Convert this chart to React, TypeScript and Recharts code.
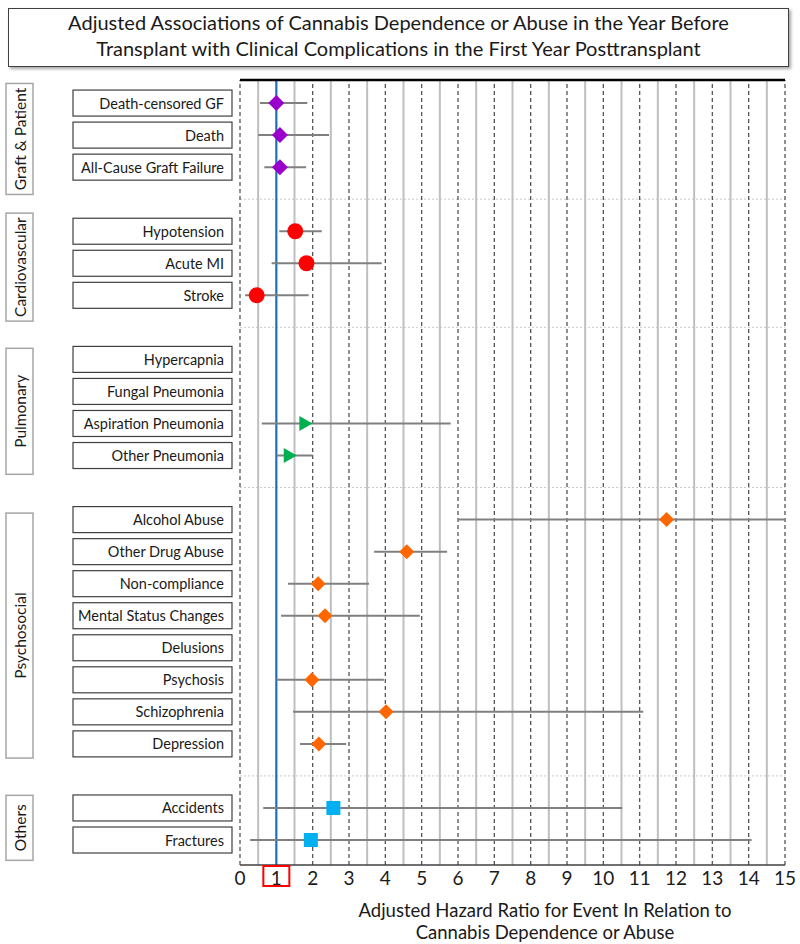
import { ComposedChart, Scatter, ErrorBar, XAxis, YAxis, ReferenceLine } from "recharts";

const categories = [
  "Death-censored GF", "Death", "All-Cause Graft Failure",
  "Hypotension", "Acute MI", "Stroke",
  "Hypercapnia", "Fungal Pneumonia", "Aspiration Pneumonia", "Other Pneumonia",
  "Alcohol Abuse", "Other Drug Abuse", "Non-compliance", "Mental Status Changes",
  "Delusions", "Psychosis", "Schizophrenia", "Depression",
  "Accidents", "Fractures",
];
const groupOf = [0, 0, 0, 1, 1, 1, 2, 2, 2, 2, 3, 3, 3, 3, 3, 3, 3, 3, 4, 4];
const groups = ["Graft & Patient", "Cardiovascular", "Pulmonary", "Psychosocial", "Others"];

const hazardRatio = [1.0, 1.1, 1.1, 1.52, 1.83, 0.46, null, null, 1.8, 1.37, 11.74, 4.59, 2.15, 2.34, null, 1.98, 4.02, 2.17, 2.57, 1.95];
const ciLower = [0.55, 0.5, 0.67, 1.08, 0.87, 0.14, null, null, 0.6, 1.01, 6.01, 3.69, 1.32, 1.13, null, 1.0, 1.46, 1.65, 0.64, 0.28];
const ciUpper = [1.85, 2.45, 1.82, 2.25, 3.9, 1.89, null, null, 5.8, 2.0, 15, 5.7, 3.55, 4.95, null, 3.96, 11.1, 2.92, 10.52, 14.08];

const xTicks = [0, 1, 2, 3, 4, 5, 6, 7, 8, 9, 10, 11, 12, 13, 14, 15];
const halfTicks = [0.5, 1.5, 2.5, 3.5, 4.5, 5.5, 6.5, 7.5, 8.5, 9.5, 10.5, 11.5, 12.5, 13.5, 14.5];

// layout
const FONT = "Lato, 'Open Sans', sans-serif";
const groupColors = ["#9900CC", "#FF0000", "#00B050", "#FF6600", "#00B0F0"];
const groupBoxHeight = [111, 108, 126, 245, 65];

// each group is followed by a blank slot
const slotOf = categories.map((_, i) => i + groupOf[i]);
const separators = groups.slice(1).map((_, g) => slotOf[groupOf.indexOf(g + 1)] - 1);
const groupCenters = groups.map((_, g) => {
  const s = slotOf.filter((_, i) => groupOf[i] === g);
  return (s[0] + s[s.length - 1]) / 2 + 0.12;
});

const rows = categories.map((name, i) => ({
  name,
  slot: slotOf[i],
  group: groupOf[i],
  hr: hazardRatio[i],
  err: hazardRatio[i] == null ? null : [hazardRatio[i]! - ciLower[i]!, ciUpper[i]! - hazardRatio[i]!],
}));
const withData = rows.filter((r) => r.hr != null);

const makeShape = (g: number) => (props: any) => {
  const { cx, cy } = props;
  const c = groupColors[g];
  if (g === 0 || g === 3) {
    const h = g === 0 ? 8 : 7.5;
    return <polygon points={`${cx},${cy - h} ${cx + h},${cy} ${cx},${cy + h} ${cx - h},${cy}`} fill={c} />;
  }
  if (g === 1) return <circle cx={cx} cy={cy} r={8} fill={c} />;
  if (g === 2) return <polygon points={`${cx - 6},${cy - 7.5} ${cx + 7},${cy} ${cx - 6},${cy + 7.5}`} fill={c} />;
  return <rect x={cx - 7} y={cy - 7} width={14} height={14} fill={c} />;
};

// one axis carries both the row labels and the rotated group labels
const LeftTick = (props: any) => {
  const { y, payload } = props;
  const idx = slotOf.indexOf(payload.value);
  if (idx >= 0) {
    return (
      <g>
        <rect x={73} y={y - 13} width={159} height={26} fill="#fff" stroke="#404040" strokeWidth={1.2} />
        <text x={224} y={y} textAnchor="end" dominantBaseline="central" fontSize={14.5} fontFamily={FONT} fill="#1a1a1a">
          {categories[idx]}
        </text>
      </g>
    );
  }
  const g = groupCenters.indexOf(payload.value);
  if (g < 0) return null;
  const h = groupBoxHeight[g];
  return (
    <g>
      <rect x={6} y={y - h / 2} width={27} height={h} fill="#fff" stroke="#A6A6A6" strokeWidth={1.5} />
      <text
        x={20}
        y={y}
        textAnchor="middle"
        dominantBaseline="central"
        fontSize={15.5}
        fontFamily={FONT}
        fill="#1a1a1a"
        transform={`rotate(-90 20 ${y})`}
      >
        {groups[g]}
      </text>
    </g>
  );
};

const XTick = (props: any) => {
  const { x, payload } = props;
  return (
    <g>
      {payload.value === 1 && <rect x={x - 13} y={866} width={26} height={20} fill="none" stroke="#FF0000" strokeWidth={2} />}
      <text x={x} y={877} textAnchor="middle" dominantBaseline="central" fontSize={19} fontFamily={FONT} fill="#1a1a1a">
        {payload.value}
      </text>
    </g>
  );
};

export default function App() {
  return (
    <div style={{ position: "absolute", left: 0, top: 0, width: 800, height: 944, background: "#fff", fontFamily: FONT }}>
      <div
        style={{
          position: "absolute",
          left: 8,
          top: 8,
          width: 779,
          height: 57,
          border: "1.5px solid #404040",
          boxShadow: "2px 2px 3px rgba(0,0,0,0.35)",
          textAlign: "center",
          fontSize: 20,
          lineHeight: "26px",
          color: "#1a1a1a",
        }}
      >
        Adjusted Associations of Cannabis Dependence or Abuse in the Year Before
        <br />
        Transplant with Clinical Complications in the First Year Posttransplant
      </div>
      <div style={{ position: "absolute", left: 0, top: 0 }}>
        <ComposedChart width={800} height={944} margin={{ top: 80, right: 15, bottom: 49, left: 0 }}>
          <XAxis
            type="number"
            dataKey="hr"
            domain={[0, 15]}
            ticks={xTicks}
            interval={0}
            allowDataOverflow
            height={30}
            tickLine={false}
            axisLine={{ stroke: "#404040", strokeWidth: 1.5 }}
            tick={<XTick />}
          />
          <YAxis
            yAxisId="rows"
            type="number"
            dataKey="slot"
            domain={[-0.72, 23.78]}
            reversed
            allowDataOverflow
            ticks={[...groupCenters, ...slotOf]}
            interval={0}
            width={240}
            axisLine={false}
            tickLine={false}
            tick={<LeftTick />}
          />
          {separators.map((s) => (
            <ReferenceLine key={`s${s}`} yAxisId="rows" y={s} stroke="#C8C8C8" strokeDasharray="2 2" strokeWidth={1} />
          ))}
          {halfTicks.map((v) => (
            <ReferenceLine key={`h${v}`} yAxisId="rows" x={v} stroke="#BFBFBF" strokeWidth={2} />
          ))}
          {xTicks.filter((v) => v !== 1).map((v) => (
            <ReferenceLine key={`i${v}`} yAxisId="rows" x={v} stroke="#555" strokeDasharray="4 3" strokeWidth={1.3} />
          ))}
          <ReferenceLine yAxisId="rows" x={1} stroke="#1F6FB8" strokeWidth={2.2} />
          <ReferenceLine yAxisId="rows" y={-0.72} stroke="#000" strokeWidth={2.5} />
          {groups.map((g, gi) => (
            <Scatter
              key={g}
              yAxisId="rows"
              data={withData.filter((r) => r.group === gi)}
              dataKey="hr"
              shape={makeShape(gi)}
              isAnimationActive={false}
            />
          ))}
          <Scatter yAxisId="rows" data={withData} dataKey="hr" shape={() => <g />} isAnimationActive={false}>
            <ErrorBar dataKey="err" direction="x" width={0} stroke="#808080" strokeWidth={2} />
          </Scatter>
        </ComposedChart>
      </div>
      <div
        style={{
          position: "absolute",
          left: 345,
          top: 899,
          width: 400,
          textAlign: "center",
          fontSize: 18.5,
          lineHeight: "22px",
          color: "#1a1a1a",
        }}
      >
        Adjusted Hazard Ratio for Event In Relation to
        <br />
        Cannabis Dependence or Abuse
      </div>
    </div>
  );
}
